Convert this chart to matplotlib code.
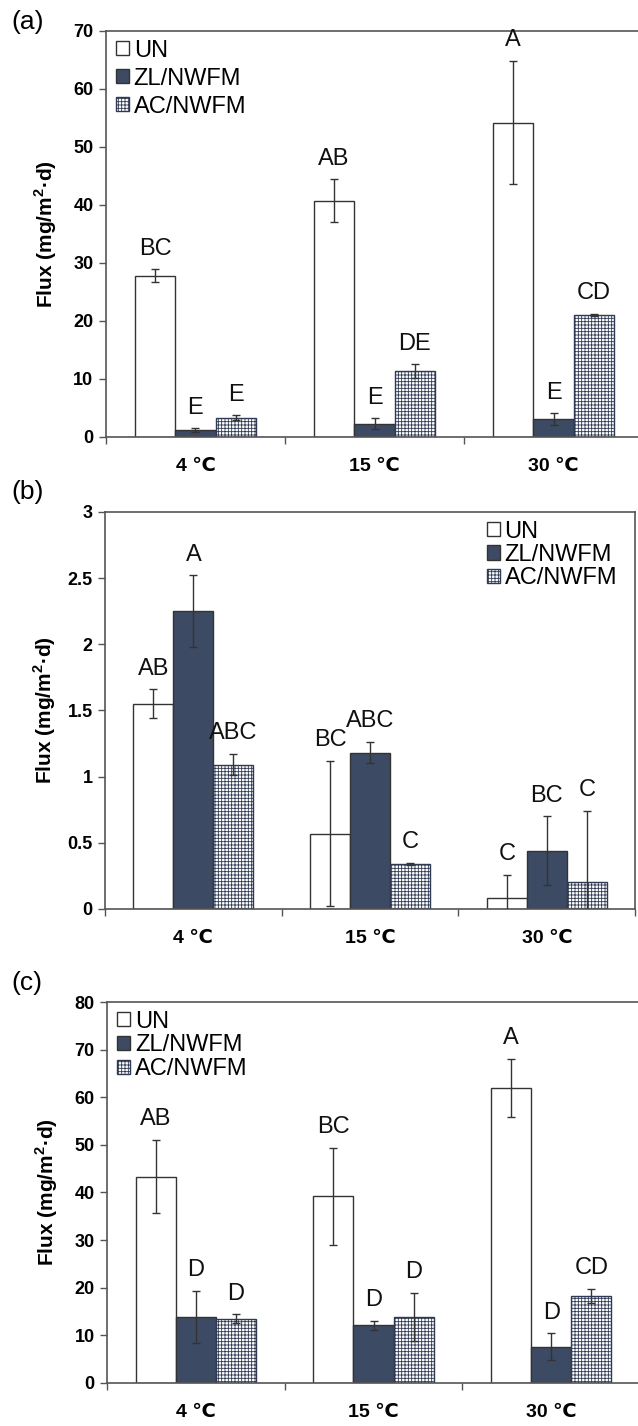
import matplotlib
matplotlib.use("Agg")
import matplotlib.pyplot as plt
import numpy as np

plt.rcParams['font.family'] = ['Liberation Sans', 'DejaVu Sans']
plt.rcParams['hatch.linewidth'] = 0.6

# data
temps = ['4 \u2103', '15 \u2103', '30 \u2103']
series = ['UN', 'ZL/NWFM', 'AC/NWFM']

# panel (a)
a_un = [27.8, 40.7, 54.2]
a_un_err = [1.1, 3.7, 10.6]
a_zl = [1.2, 2.3, 3.05]
a_zl_err = [0.3, 0.9, 1.0]
a_ac = [3.3, 11.3, 21.0]
a_ac_err = [0.4, 1.2, 0.2]
a_letters = [['BC', 'AB', 'A'], ['E', 'E', 'E'], ['E', 'DE', 'CD']]

# panel (b)
b_un = [1.55, 0.57, 0.085]
b_un_err = [0.11, 0.55, 0.17]
b_zl = [2.25, 1.18, 0.44]
b_zl_err = [0.27, 0.08, 0.26]
b_ac = [1.09, 0.34, 0.20]
b_ac_err = [0.08, 0.01, 0.54]
b_letters = [['AB', 'BC', 'C'], ['A', 'ABC', 'BC'], ['ABC', 'C', 'C']]

# panel (c)
c_un = [43.3, 39.2, 61.9]
c_un_err = [7.7, 10.2, 6.1]
c_zl = [13.8, 12.1, 7.6]
c_zl_err = [5.5, 0.9, 2.8]
c_ac = [13.5, 13.9, 18.2]
c_ac_err = [0.9, 5.0, 1.5]
c_letters = [['AB', 'BC', 'A'], ['D', 'D', 'D'], ['D', 'D', 'CD']]

dark = '#3d4a64'
edge = '#333333'
styles = [dict(color='white', edgecolor=edge, hatch=None),
          dict(color=dark, edgecolor=edge, hatch=None),
          dict(color='white', edgecolor='#2f3a52', hatch='+++++')]


def draw_panel(ax, vals, errs, letters, ymax, ystep, tick_fmt, leg_loc, leg_anchor, leg_space):
    x = np.arange(len(temps))
    w = 0.226
    for i in range(3):
        st = styles[i]
        ax.bar(x + (i - 1) * w, vals[i], w, color=st['color'], edgecolor=st['edgecolor'],
               hatch=st['hatch'], linewidth=1.0, label=series[i], zorder=2)
        ax.errorbar(x + (i - 1) * w, vals[i], yerr=errs[i], fmt='none', ecolor='#333333',
                    elinewidth=1.0, capsize=3, capthick=1.0, zorder=3)
        for j in range(len(temps)):
            ax.annotate(letters[i][j], (x[j] + (i - 1) * w, vals[i][j] + errs[i][j]),
                        xytext=(0, 7), textcoords='offset points', ha='center', va='bottom',
                        fontsize=17, color='#111111')
    ax.set_xlim(-0.5, 2.5)
    ax.set_ylim(0, ymax)
    yt = np.arange(0, ymax + ystep / 2, ystep)
    ax.set_yticks(yt)
    ax.set_yticklabels([tick_fmt(v) for v in yt], fontsize=13, fontweight='bold')
    ax.set_xticks(x)
    ax.set_xticklabels(temps, fontsize=14, fontweight='bold')
    ax.tick_params(axis='x', which='major', length=0, pad=15)
    ax.set_xticks([-0.5, 0.5, 1.5, 2.5], minor=True)
    ax.tick_params(axis='x', which='minor', length=5, width=1.0, direction='out', color='#555555')
    ax.tick_params(axis='y', length=5, width=1.0, direction='out', color='#555555', pad=4)
    for s in ax.spines.values():
        s.set_color('#555555')
        s.set_linewidth(1.2)
    ax.set_ylabel('Flux (mg/m$^{\\mathregular{2}}$\u00b7d)', fontsize=15, fontweight='bold')
    ax.yaxis.set_label_coords(-0.088, 0.5)
    ax.legend(loc=leg_loc, bbox_to_anchor=leg_anchor, frameon=False, fontsize=17,
              handlelength=0.55, handleheight=0.55, handletextpad=0.2,
              labelspacing=leg_space, borderaxespad=0, borderpad=0.2)


fig = plt.figure(figsize=(6.38, 14.26), dpi=100)

ax_a = fig.add_axes([0.166, 0.6936, 0.842, 0.2847])
draw_panel(ax_a, [a_un, a_zl, a_ac], [a_un_err, a_zl_err, a_ac_err], a_letters,
           70, 10, lambda v: '%d' % v, 'upper left', (0.01, 0.99), 0.25)

ax_b = fig.add_axes([0.1646, 0.3626, 0.831, 0.2784])
draw_panel(ax_b, [b_un, b_zl, b_ac], [b_un_err, b_zl_err, b_ac_err], b_letters,
           3, 0.5, lambda v: '%g' % v, 'upper right', (0.975, 0.99), 0.05)

ax_c = fig.add_axes([0.168, 0.0302, 0.835, 0.2671])
draw_panel(ax_c, [c_un, c_zl, c_ac], [c_un_err, c_zl_err, c_ac_err], c_letters,
           80, 10, lambda v: '%d' % v, 'upper left', (0.01, 0.99), 0.08)

fig.text(0.018, 1 - 22 / 1426, '(a)', fontsize=19, va='center', ha='left')
fig.text(0.018, 1 - 492 / 1426, '(b)', fontsize=19, va='center', ha='left')
fig.text(0.018, 1 - 983 / 1426, '(c)', fontsize=19, va='center', ha='left')

fig.savefig('out.png', dpi=100)
